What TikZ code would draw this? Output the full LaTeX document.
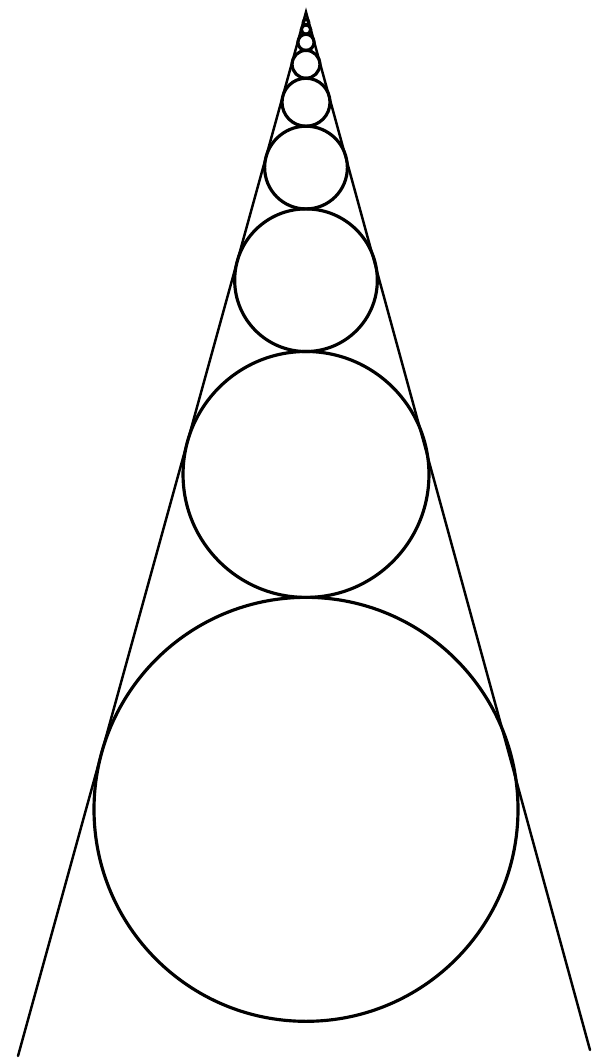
\documentclass[tikz,border=0pt]{standalone}
\usetikzlibrary{calc}
\begin{document}
\begin{tikzpicture}[x=0.02cm, y=-0.02cm,
    side/.style={line width=1.4pt, line cap=round},
    ring/.style={line width=1.8pt},
  ]
  \useasboundingbox (0,0) rectangle (597,1058);
  %% Cone
  \coordinate (apex) at (306,12);
  \coordinate (foot l) at (18,1056);
  \coordinate (foot r) at (590,1050);
  \draw[side] (foot l) -- (apex) -- (foot r);
  %% Chain of circles, each touching both sides and the next one
  \foreach \n in {0,...,8}{
    \pgfmathsetmacro{\rad}{212*0.58^\n}
    \pgfmathsetmacro{\cy}{12+\rad/0.2659}
    \draw[ring] (306,\cy) circle (\rad);
  }
\end{tikzpicture}
\end{document}
